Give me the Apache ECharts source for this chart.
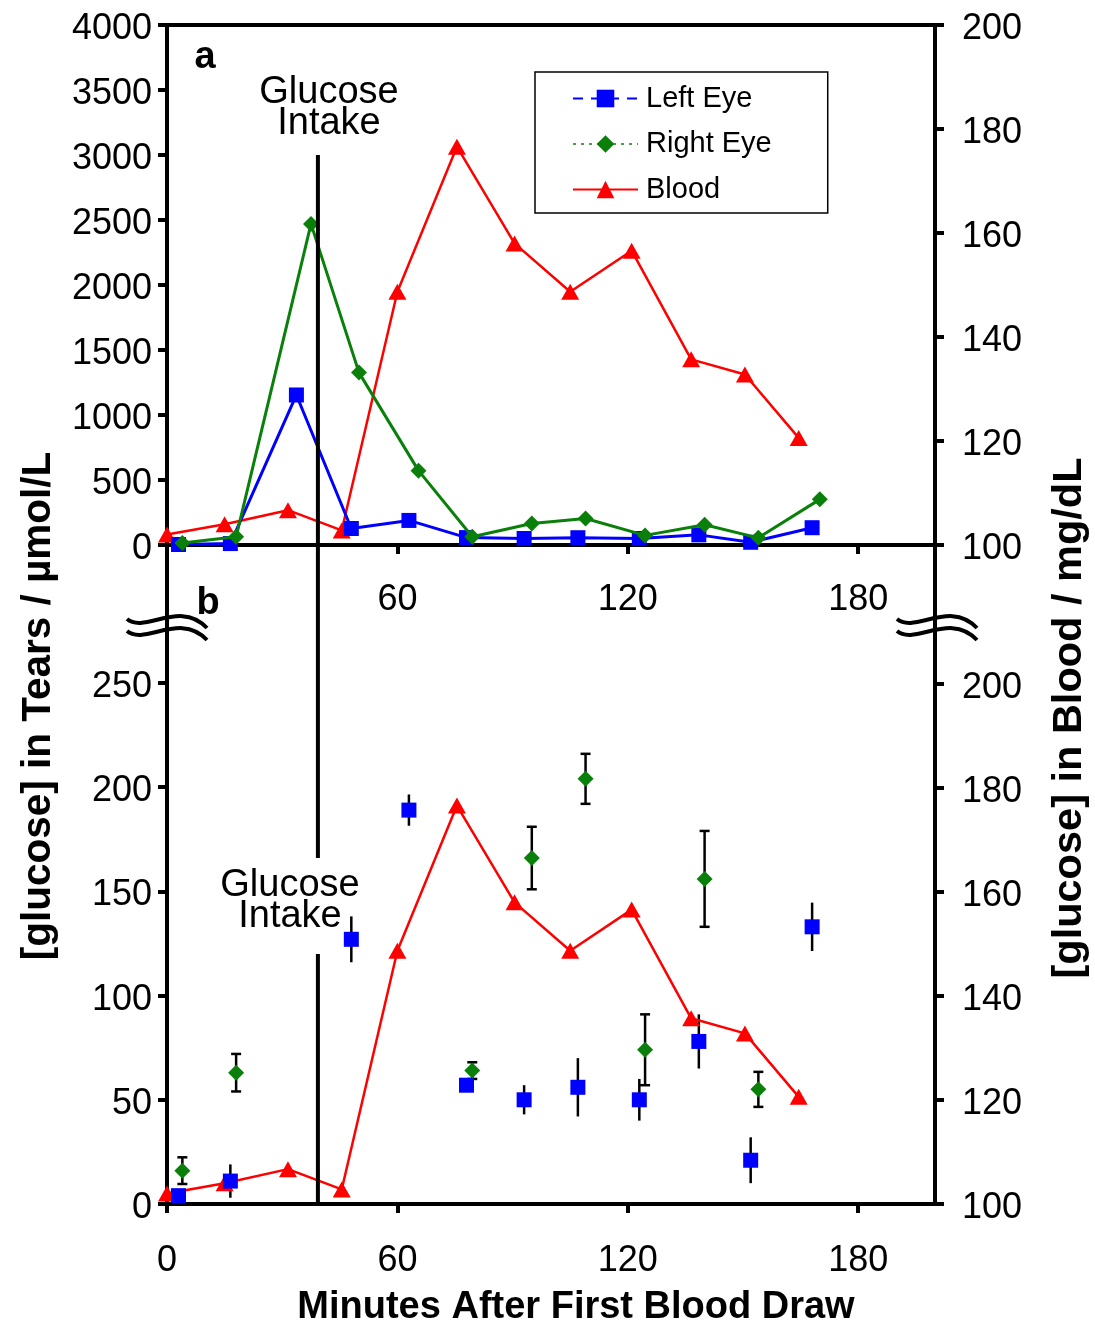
<!DOCTYPE html>
<html>
<head>
<meta charset="utf-8">
<script src="https://cdn.jsdelivr.net/npm/echarts@6/dist/echarts.min.js"></script>
<style>
  html, body { margin: 0; padding: 0; background: #fff; }
  #chart { width: 1095px; height: 1331px; }
</style>
</head>
<body>
<div id="chart"></div>
<script>
// Blood glucose (mg/dL) and tear glucose (µmol/L) after a glucose drink.
const bloodMinutes   = [0, 15, 31.5, 45.5, 60, 75.5, 90.5, 105, 121, 136.5, 150.5, 164.5];
const bloodGlucose   = [102, 104, 106.7, 102.8, 148.7, 176.6, 158, 148.7, 156.6, 135.7, 132.8, 120.6];

const leftEyeMinutes = [3, 16.5, 33.7, 48, 63, 78, 93, 107, 123, 138.5, 152, 168];
const leftEyeGlucose = [4, 11, 1154, 127, 189, 57, 50, 56, 50, 78, 21, 133];
const leftEyeError   = [2, 8, null, 11, 7.5, 3, 7, 14, 10, 13, 11, 11.6];

const rightEyeMinutes = [4, 18, 37.5, 50, 65.5, 79.5, 95, 109, 124.5, 140, 154, 170];
const rightEyeGlucose = [16, 63, 2470, 1326, 572, 64, 166, 204, 74, 156, 55, 351];
const rightEyeError   = [6.4, 9, null, null, null, 4, 15, 12, 17, 23, 8.4, null];

const intakeMinute = 39.3;
const intakeTopPanel = [0, 3000];                // tear axis, panel a
const intakeLowerPanel = [[0, 120], [166, 330]]; // tear axis, panel b (gap for the label)
const intakeLabel = 'Glucose\nIntake';

const xTicksA = [60, 120, 180];
const xTicksB = [0, 60, 120, 180];
const tearTicksB = [0, 50, 100, 150, 200, 250];
const bloodTicksB = [100, 120, 140, 160, 180, 200];

const seriesNames = ['Left Eye', 'Right Eye', 'Blood'];
const colors = { left: '#0000ff', right: '#0a800a', blood: '#ff0000' };

const FONT = "'Liberation Sans', Arial, sans-serif";
const TEAR_MAX_B = 316.2;
const BLOOD_MAX_B = 226.7;

const zip = (xs, ys) => xs.map((x, i) => [x, ys[i]]);
const inRangeB = (xs, ys, es) => xs.map((x, i) => [x, ys[i], es[i]]).filter(d => d[1] <= 260);

const axisLine = { show: true, lineStyle: { color: '#000', width: 4 } };
const axisTick = (len) => ({ show: true, length: len, lineStyle: { color: '#000', width: 4 } });
const xLabel = { color: '#000', fontSize: 36, fontFamily: FONT, formatter: (v) => String(v) };
// y labels sit a few pixels below their ticks
const yLabel = {
  color: '#000', fontSize: 36, fontFamily: FONT,
  formatter: (v) => '{v|' + v + '}',
  rich: { v: { fontSize: 36, fontFamily: FONT, color: '#000', padding: [8, 0, 0, 0] } }
};

const chart = echarts.init(document.getElementById('chart'), null, { renderer: 'canvas' });

function errorBarRenderer(withCaps) {
  return function (params, api) {
    const x = api.value(0), v = api.value(1), e = api.value(2);
    if (e == null || isNaN(e)) return null;
    const top = api.coord([x, v + e]);
    const bot = api.coord([x, v - e]);
    const children = [{
      type: 'line', shape: { x1: top[0], y1: top[1], x2: bot[0], y2: bot[1] },
      style: { stroke: '#000', lineWidth: 2.5 }
    }];
    if (withCaps) {
      [top, bot].forEach(p => children.push({
        type: 'line', shape: { x1: p[0] - 5, y1: p[1], x2: p[0] + 5, y2: p[1] },
        style: { stroke: '#000', lineWidth: 2.5 }
      }));
    }
    return { type: 'group', children };
  };
}

function squiggle(x0, y0) {
  const curve = (dy) => ({
    type: 'bezierCurve',
    shape: { x1: x0, y1: y0 + dy, cpx1: x0 + 18, cpy1: y0 + 15 + dy, cpx2: x0 + 53, cpy2: y0 - 20 + dy, x2: x0 + 80, y2: y0 + 9 + dy },
    style: { stroke: '#000', lineWidth: 4, fill: null }
  });
  return [curve(0), curve(12)];
}

const option = {
  backgroundColor: '#fff',
  animation: false,
  grid: [
    { left: 167, right: 160, top: 25, height: 520, show: true, borderColor: '#000', borderWidth: 4, backgroundColor: 'transparent' },
    { left: 167, right: 160, top: 545, height: 659 }
  ],
  xAxis: [
    { gridIndex: 0, type: 'value', min: 0, max: 200, axisLine, axisTick: Object.assign(axisTick(9), { customValues: xTicksA }),
      axisLabel: Object.assign({ margin: 37, customValues: xTicksA }, xLabel), splitLine: { show: false } },
    { gridIndex: 1, type: 'value', min: 0, max: 200, axisLine, axisTick: Object.assign(axisTick(9), { customValues: xTicksB }),
      axisLabel: Object.assign({ margin: 39, customValues: xTicksB }, xLabel), splitLine: { show: false } }
  ],
  yAxis: [
    { gridIndex: 0, type: 'value', min: 0, max: 4000, interval: 500, position: 'left', axisLine, axisTick: axisTick(9),
      axisLabel: Object.assign({ margin: 15 }, yLabel), splitLine: { show: false } },
    { gridIndex: 0, type: 'value', min: 100, max: 200, interval: 20, position: 'right', axisLine, axisTick: axisTick(9),
      axisLabel: Object.assign({ margin: 27 }, yLabel), splitLine: { show: false } },
    { gridIndex: 1, type: 'value', min: 0, max: TEAR_MAX_B, position: 'left', axisLine,
      axisTick: Object.assign(axisTick(9), { customValues: tearTicksB }),
      axisLabel: Object.assign({ margin: 15, customValues: tearTicksB }, yLabel), splitLine: { show: false } },
    { gridIndex: 1, type: 'value', min: 100, max: BLOOD_MAX_B, position: 'right', axisLine,
      axisTick: Object.assign(axisTick(9), { customValues: bloodTicksB }),
      axisLabel: Object.assign({ margin: 27, customValues: bloodTicksB }, yLabel), splitLine: { show: false } }
  ],
  legend: {
    orient: 'vertical', left: 535, top: 72,
    backgroundColor: '#fff', borderColor: '#000', borderWidth: 1.5, borderRadius: 0,
    padding: [12, 56, 9, 37],
    itemWidth: 65, itemHeight: 22, itemGap: 16.5,
    textStyle: { fontSize: 29, fontFamily: FONT, color: '#000', lineHeight: 29, padding: [0, 0, 0, 3] },
    data: [
      { name: seriesNames[0], lineStyle: { type: [10, 8], width: 2 } },
      { name: seriesNames[1], lineStyle: { type: [3, 5], width: 1.5 } },
      { name: seriesNames[2], lineStyle: { type: 'solid', width: 2 } }
    ]
  },
  graphic: [
    { type: 'text', x: 205, y: 58, style: { text: 'a', font: 'bold 38px ' + FONT, fill: '#000', textAlign: 'center', textVerticalAlign: 'middle' } },
    { type: 'text', x: 208, y: 604, style: { text: 'b', font: 'bold 38px ' + FONT, fill: '#000', textAlign: 'center', textVerticalAlign: 'middle' } },
    { type: 'text', x: 329, y: 108, style: { text: intakeLabel, font: '38px ' + FONT, lineHeight: 31, fill: '#000', textAlign: 'center', textVerticalAlign: 'middle' } },
    { type: 'text', x: 290, y: 901, style: { text: intakeLabel, font: '38px ' + FONT, lineHeight: 31, fill: '#000', textAlign: 'center', textVerticalAlign: 'middle' } },
    { type: 'text', x: 39, y: 706, rotation: Math.PI / 2, style: { text: '[glucose] in Tears / µmol/L', font: 'bold 40.5px ' + FONT, fill: '#000', textAlign: 'center', textVerticalAlign: 'middle' } },
    { type: 'text', x: 1070, y: 718, rotation: Math.PI / 2, style: { text: '[glucose] in Blood / mg/dL', font: 'bold 41.5px ' + FONT, fill: '#000', textAlign: 'center', textVerticalAlign: 'middle' } },
    { type: 'text', x: 576, y: 1308, style: { text: 'Minutes After First Blood Draw', font: 'bold 38px ' + FONT, fill: '#000', textAlign: 'center', textVerticalAlign: 'middle' } },
    ...squiggle(127, 619),
    ...squiggle(897, 619)
  ],
  series: [
    // panel a
    { name: seriesNames[2], type: 'line', xAxisIndex: 0, yAxisIndex: 1, data: zip(bloodMinutes, bloodGlucose),
      symbol: 'triangle', symbolSize: [18, 16], color: colors.blood, lineStyle: { width: 2.5, color: colors.blood }, z: 3 },
    { name: seriesNames[0], type: 'line', xAxisIndex: 0, yAxisIndex: 0, data: zip(leftEyeMinutes, leftEyeGlucose),
      symbol: 'rect', symbolSize: 15, color: colors.left, lineStyle: { width: 3, color: colors.left }, z: 4 },
    { name: seriesNames[1], type: 'line', xAxisIndex: 0, yAxisIndex: 0, data: zip(rightEyeMinutes, rightEyeGlucose),
      symbol: 'diamond', symbolSize: 16, color: colors.right, lineStyle: { width: 3, color: colors.right }, z: 5 },
    { name: 'intake-a', type: 'line', xAxisIndex: 0, yAxisIndex: 0, data: intakeTopPanel.map(v => [intakeMinute, v]),
      symbol: 'none', lineStyle: { width: 4, color: '#000' }, z: 6, silent: true },

    // panel b
    { name: 'err-left', type: 'custom', xAxisIndex: 1, yAxisIndex: 2, renderItem: errorBarRenderer(false),
      data: inRangeB(leftEyeMinutes, leftEyeGlucose, leftEyeError), encode: { x: 0, y: 1 }, z: 2, silent: true },
    { name: 'err-right', type: 'custom', xAxisIndex: 1, yAxisIndex: 2, renderItem: errorBarRenderer(true),
      data: inRangeB(rightEyeMinutes, rightEyeGlucose, rightEyeError), encode: { x: 0, y: 1 }, z: 2, silent: true },
    { name: seriesNames[2], type: 'line', xAxisIndex: 1, yAxisIndex: 3, data: zip(bloodMinutes, bloodGlucose),
      symbol: 'triangle', symbolSize: [18, 16], color: colors.blood, lineStyle: { width: 2.5, color: colors.blood }, z: 3 },
    { name: seriesNames[0], type: 'scatter', xAxisIndex: 1, yAxisIndex: 2,
      data: inRangeB(leftEyeMinutes, leftEyeGlucose, leftEyeError).map(d => [d[0], d[1]]),
      symbol: 'rect', symbolSize: 15, itemStyle: { color: colors.left, opacity: 1 }, z: 4 },
    { name: seriesNames[1], type: 'scatter', xAxisIndex: 1, yAxisIndex: 2,
      data: inRangeB(rightEyeMinutes, rightEyeGlucose, rightEyeError).map(d => [d[0], d[1]]),
      symbol: 'diamond', symbolSize: 16, itemStyle: { color: colors.right, opacity: 1 }, z: 5 },
    ...intakeLowerPanel.map((seg, i) => ({
      name: 'intake-b' + i, type: 'line', xAxisIndex: 1, yAxisIndex: 2, data: seg.map(v => [intakeMinute, v]),
      symbol: 'none', lineStyle: { width: 4, color: '#000' }, z: 6, silent: true
    }))
  ]
};

chart.setOption(option);
</script>
</body>
</html>
